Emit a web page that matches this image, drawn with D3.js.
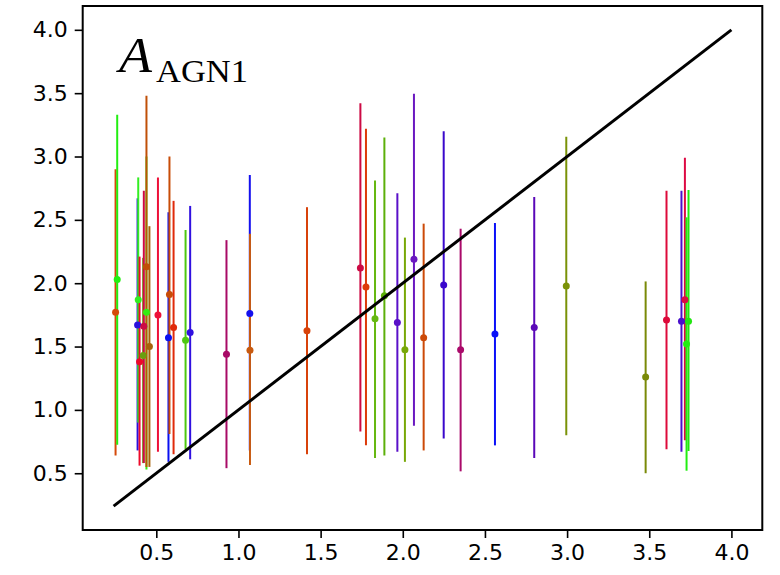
<!DOCTYPE html>
<html>
<head>
<meta charset="utf-8">
<script src="https://cdn.jsdelivr.net/npm/d3@7"></script>
<style>
  html, body { margin: 0; padding: 0; background: #fff; }
  svg { display: block; }
</style>
</head>
<body>
<div id="chart"></div>
<script>
// ---- data ----
const xValues = [0.252, 0.262, 0.386, 0.390, 0.398, 0.420, 0.424, 0.440, 0.440, 0.458,
                 0.510, 0.574, 0.580, 0.605, 0.678, 0.706, 0.927, 1.069, 1.070, 1.417,
                 1.742, 1.776, 1.831, 1.888, 1.967, 2.013, 2.068, 2.127, 2.249, 2.352,
                 2.561, 2.800, 2.995, 3.478, 3.605, 3.696, 3.717, 3.727, 3.739];
const yValues = [1.77, 2.03, 1.67, 1.87, 1.38, 1.43, 1.66, 1.77, 2.13, 1.50,
                 1.75, 1.57, 1.91, 1.65, 1.55, 1.61, 1.44, 1.76, 1.47, 1.625,
                 2.12, 1.97, 1.72, 1.90, 1.69, 1.475, 2.19, 1.57, 1.985, 1.475,
                 1.60, 1.65, 1.977, 1.26, 1.71, 1.70, 1.87, 1.52, 1.70];
const yLow    = [0.64, 0.725, 0.68, 0.90, 0.56, 0.58, 0.58, 0.53, 0.55, 0.55,
                 0.67, 0.59, 0.81, 0.65, 0.69, 0.61, 0.54, 0.68, 0.565, 0.65,
                 0.83, 0.72, 0.62, 0.64, 0.67, 0.59, 0.875, 0.68, 0.775, 0.515,
                 0.72, 0.62, 0.80, 0.50, 0.69, 0.67, 0.76, 0.52, 0.675];
const yHigh   = [2.90, 3.33, 2.67, 2.835, 2.21, 2.20, 2.73, 3.00, 3.48, 2.45,
                 2.835, 2.56, 3.00, 2.65, 2.42, 2.61, 2.34, 2.855, 2.39, 2.60,
                 3.42, 3.22, 2.81, 3.15, 2.71, 2.36, 3.495, 2.47, 3.20, 2.43,
                 2.475, 2.68, 3.155, 2.014, 2.73, 2.73, 2.99, 2.52, 2.735];
const pointColors = ["#d54a0a", "#22ee11", "#2a10dd", "#33ee22", "#ee0a2a", "#6a9e10", "#cc0a44", "#33ee11", "#c05008", "#a8620a",
                     "#ee1038", "#0a10f0", "#c84c08", "#e02a0a", "#4ec810", "#3010e0", "#a80a66", "#1410ee", "#c85a10", "#d8420a",
                     "#cc0a44", "#dd3a0a", "#66b810", "#5cb00a", "#5a10c8", "#78a808", "#6a18c0", "#cc4a08", "#3a08cc", "#aa0a6a",
                     "#0a10f8", "#5a08b8", "#7a9208", "#7a8a08", "#dd0a3a", "#4a10cc", "#dd0a44", "#22ee11", "#22e611"];
const lineX = [0.24, 4.0];
const lineY = [0.24, 4.0];
const xTicks = [0.5, 1.0, 1.5, 2.0, 2.5, 3.0, 3.5, 4.0];
const yTicks = [0.5, 1.0, 1.5, 2.0, 2.5, 3.0, 3.5, 4.0];

// ---- layout ----
const W = 780, H = 575;
const plot = { left: 82.7, right: 762.3, top: 6, bottom: 530 };
const domain = [0.052, 4.188];

const svg = d3.select("#chart").append("svg")
  .attr("width", W).attr("height", H);

const x = d3.scaleLinear().domain(domain).range([plot.left, plot.right]);
const y = d3.scaleLinear().domain(domain).range([plot.bottom, plot.top]);

const data = xValues.map((v, i) => ({ x: v, y: yValues[i], lo: yLow[i], hi: yHigh[i], c: pointColors[i] }));

// error bars
const g = svg.append("g");
g.selectAll("line.err").data(data).enter().append("line")
  .attr("class", "err")
  .attr("x1", d => x(d.x)).attr("x2", d => x(d.x))
  .attr("y1", d => y(d.lo)).attr("y2", d => y(d.hi))
  .attr("stroke", d => d.c).attr("stroke-width", 2);
g.selectAll("circle.pt").data(data).enter().append("circle")
  .attr("class", "pt")
  .attr("cx", d => x(d.x)).attr("cy", d => y(d.y)).attr("r", 3.5)
  .attr("fill", d => d.c);

// 1:1 line
svg.append("path")
  .datum(lineX.map((v, i) => [v, lineY[i]]))
  .attr("d", d3.line().x(d => x(d[0])).y(d => y(d[1])))
  .attr("stroke", "#000").attr("stroke-width", 3).attr("fill", "none");

// axes
const fmt = d3.format(".1f");
const xAxis = svg.append("g").attr("transform", `translate(0,${plot.bottom})`)
  .call(d3.axisBottom(x).tickValues(xTicks).tickFormat(fmt).tickSize(8).tickPadding(6));
const yAxis = svg.append("g").attr("transform", `translate(${plot.left},0)`)
  .call(d3.axisLeft(y).tickValues(yTicks).tickFormat(fmt).tickSize(8).tickPadding(7));
[xAxis, yAxis].forEach(a => {
  a.select(".domain").remove();
  a.selectAll(".tick line").attr("stroke", "#000").attr("stroke-width", 1.6);
  a.selectAll(".tick text").attr("fill", "#000")
    .style("font-family", "'DejaVu Sans', sans-serif").style("font-size", "22px");
});

// frame
svg.append("rect")
  .attr("x", plot.left).attr("y", plot.top)
  .attr("width", plot.right - plot.left).attr("height", plot.bottom - plot.top)
  .attr("fill", "none").attr("stroke", "#000").attr("stroke-width", 2);

// title label
const t = svg.append("text").attr("x", 119).attr("y", 72)
  .style("font-family", "'Liberation Serif', serif").attr("fill", "#000");
t.append("tspan").text("A").style("font-style", "italic").style("font-size", "50px")
  .attr("textLength", 33).attr("lengthAdjust", "spacingAndGlyphs");
t.append("tspan").attr("x", 156).attr("y", 81.5).text("AGN1")
  .style("font-size", "31px").attr("textLength", 92).attr("lengthAdjust", "spacingAndGlyphs");
</script>
</body>
</html>
